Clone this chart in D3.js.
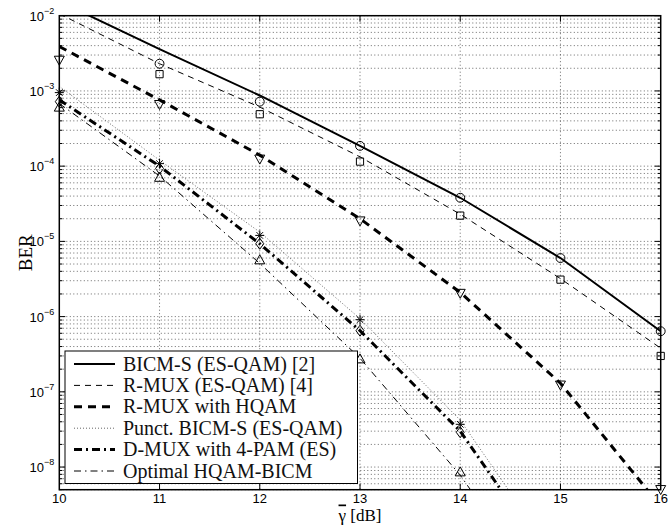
<!DOCTYPE html>
<html>
<head>
<meta charset="utf-8">
<script src="https://cdn.jsdelivr.net/npm/d3@7"></script>
<style>
  body { margin: 0; background: #fff; }
  svg { display: block; }
</style>
</head>
<body>
<svg id="chart" width="668" height="525"></svg>
<script>
// SNR axis (dB)
let snr = [10, 11, 12, 13, 14, 15, 16]

// analytic curves (lines)
let bicmLine = [1.55e-2, 3.6e-3, 8.7e-4, 1.86e-4, 3.8e-5, 6.0e-6, 6.4e-7]
let rmuxEsLine = [1.06e-2, 2.3e-3, 6.1e-4, 1.33e-4, 2.3e-5, 3.2e-6, 3.8e-7]
let rmuxHqLine = [3.9e-3, 7.6e-4, 1.4e-4, 2.0e-5, 2.1e-6, 1.3e-7, 3e-9]
let punctLine = [1.15e-3, 1.2e-4, 1.33e-5, 9.4e-7, 4.2e-8, 5e-10]
let dmuxLine = [7.6e-4, 1.0e-4, 9.3e-6, 6.5e-7, 3.0e-8, 3.6e-10]
let optimalLine = [6.8e-4, 7.4e-5, 5.1e-6, 2.8e-7, 7.8e-9, 1e-10]

// simulated points (markers)
let bicmPts = [null, 2.3e-3, 7.2e-4, 1.86e-4, 3.8e-5, 6.0e-6, 6.4e-7]
let rmuxEsPts = [null, 1.67e-3, 4.9e-4, 1.15e-4, 2.2e-5, 3.1e-6, 3.0e-7]
let rmuxHqPts = [2.6e-3, 6.7e-4, 1.26e-4, 1.9e-5, 2.07e-6, 1.25e-7, 5.1e-9]
let punctPts = [9.5e-4, 1.08e-4, 1.2e-5, 9.1e-7, 3.7e-8]
let dmuxPts = [7.2e-4, 9.3e-5, 9.3e-6, 6.5e-7, 2.9e-8]
let optimalPts = [6.0e-4, 7.0e-5, 5.6e-6, 2.7e-7, 8.5e-9]

let legendLabels = [
    "BICM-S (ES-QAM) [2]",
    "R-MUX (ES-QAM) [4]",
    "R-MUX with HQAM",
    "Punct. BICM-S (ES-QAM)",
    "D-MUX with 4-PAM (ES)",
    "Optimal HQAM-BICM"
]

let yTicks = [1e-8, 1e-7, 1e-6, 1e-5, 1e-4, 1e-3, 1e-2]

let series = [
    { line: bicmLine, pts: bicmPts, marker: "circle", width: 2, dash: null, color: "#000" },
    { line: rmuxEsLine, pts: rmuxEsPts, marker: "square", width: 1, dash: "6,5", color: "#000" },
    { line: rmuxHqLine, pts: rmuxHqPts, marker: "tridown", width: 3, dash: "8,6", color: "#000" },
    { line: punctLine, pts: punctPts, marker: "star", width: 1, dash: "1,2", color: "#666" },
    { line: dmuxLine, pts: dmuxPts, marker: "diamond", width: 3, dash: "8,4,2,4", color: "#000" },
    { line: optimalLine, pts: optimalPts, marker: "triup", width: 1, dash: "7,4,1.5,4", color: "#000" }
]

let svg = d3.select("#chart")
let margin = { top: 15.7, left: 59.3, right: 7.3, bottom: 35 }
let width = 668 - margin.left - margin.right
let height = 489.7 - margin.top

let x = d3.scaleLinear().domain([10, 16]).range([0, width])
let y = d3.scaleLog().domain([5e-9, 1e-2]).range([height, 0])

svg.append("defs").append("clipPath")
    .attr("id", "clip")
  .append("rect")
    .attr("width", width)
    .attr("height", height)

let g = svg.append("g")
    .attr("transform", "translate(" + margin.left + "," + margin.top + ")")

// minor + major log ticks
let allY = []
for (let e = -9; e <= -3; e++) {
    for (let m = 1; m <= 9; m++) {
        let v = m * Math.pow(10, e)
        if (v >= 5e-9 && v <= 1e-2) allY.push({ v: v, major: m === 1 })
    }
}
allY.push({ v: 1e-2, major: true })

// grid
let grid = g.append("g")
    .attr("stroke", "#444")
    .attr("stroke-width", 0.8)
    .attr("stroke-dasharray", "1,2.5")
grid.selectAll(".hg").data(allY).enter().append("line")
    .attr("x1", 0).attr("x2", width)
    .attr("y1", d => y(d.v)).attr("y2", d => y(d.v))
grid.selectAll(".vg").data(snr.slice(1, -1)).enter().append("line")
    .attr("y1", 0).attr("y2", height)
    .attr("x1", d => x(d)).attr("x2", d => x(d))

// curves
let lineGen = d3.line()
    .x((d, i) => x(snr[i]))
    .y(d => y(d))

let curves = g.append("g").attr("clip-path", "url(#clip)")
series.forEach(s => {
    curves.append("path")
        .datum(s.line)
        .attr("d", lineGen)
        .attr("fill", "none")
        .attr("stroke", s.color)
        .attr("stroke-width", s.width)
        .attr("stroke-dasharray", s.dash)
})

// markers
let sym = {
    circle: d3.symbol().type(d3.symbolCircle).size(62)(),
    square: d3.symbol().type(d3.symbolSquare).size(52)(),
    diamond: "M0,-5.5L4,0L0,5.5L-4,0Z",
    triup: "M0,-5.5L5,3.5L-5,3.5Z",
    tridown: "M0,5.5L5,-3.5L-5,-3.5Z",
    star: "M0,-5V5M-4.5,0H4.5M-3.3,-3.3L3.3,3.3M-3.3,3.3L3.3,-3.3"
}
series.forEach(s => {
    g.append("g").selectAll("path")
        .data(s.pts.map((v, i) => ({ x: snr[i], v: v })).filter(d => d.v !== null))
        .enter().append("path")
        .attr("transform", d => "translate(" + x(d.x) + "," + y(d.v) + ")")
        .attr("d", sym[s.marker])
        .attr("fill", "none")
        .attr("stroke", "#000")
        .attr("stroke-width", 1)
})

// frame and ticks
g.append("rect")
    .attr("width", width).attr("height", height)
    .attr("fill", "none").attr("stroke", "#000").attr("stroke-width", 1.5)

let ticks = g.append("g").attr("stroke", "#000").attr("stroke-width", 1)
snr.slice(1, -1).forEach(t => {
    ticks.append("line").attr("x1", x(t)).attr("x2", x(t)).attr("y1", height).attr("y2", height - 6)
    ticks.append("line").attr("x1", x(t)).attr("x2", x(t)).attr("y1", 0).attr("y2", 6)
})
allY.forEach(d => {
    let len = d.major ? 6 : 3
    ticks.append("line").attr("x1", 0).attr("x2", len).attr("y1", y(d.v)).attr("y2", y(d.v))
    ticks.append("line").attr("x1", width).attr("x2", width - len).attr("y1", y(d.v)).attr("y2", y(d.v))
})

// tick labels
g.selectAll(".xl").data(snr).enter().append("text")
    .attr("x", d => x(d))
    .attr("y", height + 13.5)
    .attr("text-anchor", "middle")
    .attr("font-family", "Liberation Sans, Arial, sans-serif")
    .attr("font-size", 13)
    .text(d => d)

let yl = g.selectAll(".yl").data(yTicks).enter().append("text")
    .attr("x", -5)
    .attr("y", d => y(d) + 5)
    .attr("text-anchor", "end")
    .attr("font-family", "Liberation Sans, Arial, sans-serif")
    .attr("font-size", 13)
yl.append("tspan").text("10")
yl.append("tspan")
    .attr("dy", -7)
    .attr("font-size", 9)
    .text(d => "\u2212" + Math.round(-Math.log10(d)))

// axis labels
svg.append("text")
    .attr("transform", "translate(32," + (margin.top + height / 2) + ") rotate(-90)")
    .attr("text-anchor", "middle")
    .attr("font-family", "Liberation Serif, Times New Roman, serif")
    .attr("font-size", 19)
    .text("BER")

let xlab = svg.append("text")
    .attr("x", margin.left + x(13))
    .attr("y", 520.5)
    .attr("text-anchor", "middle")
    .attr("font-family", "Liberation Serif, Times New Roman, serif")
    .attr("font-size", 17)
xlab.append("tspan").style("text-decoration", "overline").text("\u03b3")
xlab.append("tspan").text(" [dB]")

// legend
let leg = g.append("g").attr("transform", "translate(" + (65 - margin.left) + "," + (351 - margin.top) + ")")
leg.append("rect")
    .attr("width", 292.5).attr("height", 132.5)
    .attr("fill", "#fff").attr("stroke", "#000").attr("stroke-width", 1)
legendLabels.forEach((lab, i) => {
    let s = series[i]
    let cy = 13 + i * 21.4
    leg.append("line")
        .attr("x1", 9).attr("x2", 50)
        .attr("y1", cy).attr("y2", cy)
        .attr("stroke", s.color)
        .attr("stroke-width", s.width)
        .attr("stroke-dasharray", s.dash)
    leg.append("text")
        .attr("x", 58)
        .attr("y", cy + 6.5)
        .attr("font-family", "Liberation Serif, Times New Roman, serif")
        .attr("font-size", 20)
        .attr("fill", "#111")
        .text(lab)
})
</script>
</body>
</html>
